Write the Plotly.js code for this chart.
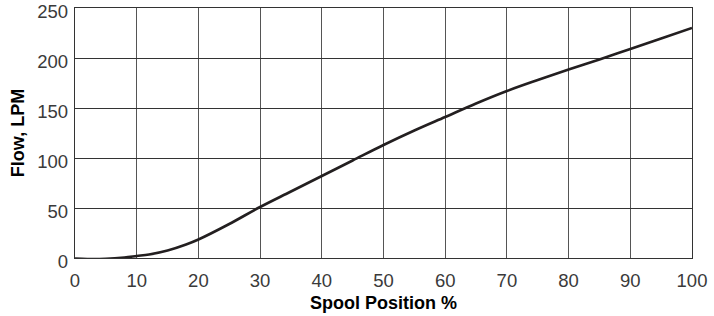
<!DOCTYPE html>
<html>
<head>
<meta charset="utf-8">
<script src="https://cdn.plot.ly/plotly-3.0.1.min.js"></script>
<style>html,body{margin:0;padding:0;background:#fff;}#chart{width:714px;height:316px;}</style>
</head>
<body>
<div id="chart"></div>
<script>
const spoolPosition = [0, 2, 5, 8, 10, 12, 15, 18, 20, 25, 30, 35, 40, 45, 50, 55, 60, 65, 70, 75, 80, 85, 90, 95, 100];
const flowLPM = [-0.5, -1, -0.8, 0.5, 2, 3.5, 7.5, 13.5, 18.5, 34, 51, 66.5, 82, 97.5, 113, 127.5, 141, 154.5, 167, 178, 188.5, 198.5, 209, 219.5, 230];
const xTicks = [0, 10, 20, 30, 40, 50, 60, 70, 80, 90, 100];
const yTicks = [0, 50, 100, 150, 200, 250];

const trace = {
  x: spoolPosition, y: flowLPM, type: 'scatter', mode: 'lines',
  line: {color: '#231f20', width: 2.6, shape: 'spline', smoothing: 1},
  hoverinfo: 'skip', cliponaxis: false
};
const tickFont = {family: 'Liberation Sans, Arial, sans-serif', size: 18.5, color: '#3a3a3a'};
const titleFontX = {family: 'Liberation Sans, Arial, sans-serif', size: 18, color: '#000', weight: 'bold'};
const titleFontY = {family: 'Liberation Sans, Arial, sans-serif', size: 18, color: '#000', weight: 'bold'};
const layout = {
  width: 714, height: 316,
  margin: {l: 75, r: 22, t: 7.5, b: 57.5},
  paper_bgcolor: '#fff', plot_bgcolor: '#fff',
  showlegend: false,
  xaxis: {
    range: [0, 100], tickvals: xTicks, ticktext: xTicks.map(String),
    showgrid: true, gridcolor: '#555', gridwidth: 1,
    showline: true, linecolor: '#333', linewidth: 1.2, mirror: true,
    zeroline: false, ticks: '', ticklen: 0, tickfont: tickFont,
    ticklabelstandoff: 6, ticklabeloverflow: 'allow',
    title: {text: 'Spool Position %', font: titleFontX, standoff: 6},
    fixedrange: true
  },
  yaxis: {
    range: [0, 250], tickvals: yTicks, ticktext: yTicks.map(String),
    showgrid: true, gridcolor: '#333', gridwidth: 1,
    showline: true, linecolor: '#333', linewidth: 1.2, mirror: true,
    zeroline: false, ticks: '', tickfont: tickFont,
    ticklabelstandoff: 2, ticklabelshift: 4, ticklabeloverflow: 'allow',
    title: {text: 'Flow, LPM', font: titleFontY, standoff: 8},
    fixedrange: true
  }
};
Plotly.newPlot('chart', [trace], layout, {displayModeBar: false, staticPlot: true});
</script>
</body>
</html>
